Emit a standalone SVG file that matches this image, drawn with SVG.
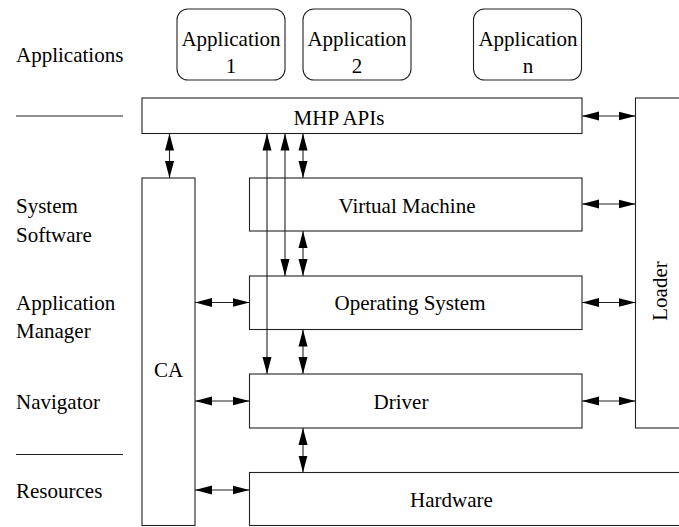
<svg xmlns="http://www.w3.org/2000/svg" width="679" height="527" viewBox="0 0 679 527" font-family="'Liberation Serif', 'Times New Roman', 'DejaVu Serif', serif">
<defs>
<style>
text{font-family:'Liberation Serif','Times New Roman','DejaVu Serif',serif;font-size:21px;fill:#000}
.m{text-anchor:middle}
.box{fill:#fff;stroke:#222;stroke-width:1.1}
.sep{stroke:#222;stroke-width:1.1}
.c{stroke:#222;stroke-width:1.1;fill:none;marker-start:url(#ah);marker-end:url(#ah)}
</style>
<marker id="ah" markerUnits="userSpaceOnUse" markerWidth="18" markerHeight="10" refX="17" refY="5" orient="auto-start-reverse" viewBox="0 0 18 10">
<path d="M0,0.5 L17,5 L0,9.5 Z" fill="#000"/>
</marker>
</defs>
<rect width="679" height="527" fill="#fff"/>

<g id="layer-labels">
<text x="16" y="62">Applications</text>
<line class="sep" x1="16" y1="116" x2="123" y2="116"/>
<text x="16" y="213">System</text>
<text x="16" y="242">Software</text>
<text x="16" y="310">Application</text>
<text x="16" y="338">Manager</text>
<text x="16" y="409">Navigator</text>
<line class="sep" x1="16" y1="454.5" x2="123" y2="454.5"/>
<text x="16" y="498">Resources</text>
</g>

<g id="app1"><rect class="box" x="177" y="9" width="108" height="71" rx="11"/><text class="m" x="231" y="46">Application</text><text class="m" x="231" y="73">1</text></g>
<g id="app2"><rect class="box" x="303" y="9" width="108" height="71" rx="11"/><text class="m" x="357" y="46">Application</text><text class="m" x="357" y="73">2</text></g>
<g id="appn"><rect class="box" x="473.5" y="9" width="108" height="71" rx="11"/><text class="m" x="528" y="46">Application</text><text class="m" x="528" y="73">n</text></g>

<g id="mhp"><rect class="box" x="142" y="98" width="440" height="35.5"/><text class="m" x="339" y="125">MHP APIs</text></g>
<g id="ca"><rect class="box" x="142" y="178" width="53" height="347.5"/><text class="m" x="168.5" y="377">CA</text></g>
<g id="vm"><rect class="box" x="249.5" y="178" width="332.5" height="53"/><text class="m" x="407" y="213">Virtual Machine</text></g>
<g id="os"><rect class="box" x="249.5" y="276" width="332.5" height="53.5"/><text class="m" x="410" y="310">Operating System</text></g>
<g id="driver"><rect class="box" x="249.5" y="374" width="332.5" height="54"/><text class="m" x="401" y="409">Driver</text></g>
<g id="hardware"><rect class="box" x="249.5" y="472.5" width="440" height="53"/><text class="m" x="451.5" y="507">Hardware</text></g>
<g id="loader"><rect class="box" x="635.5" y="98" width="60" height="330"/><text class="m" transform="translate(667,291) rotate(-90)">Loader</text></g>

<g id="connectors">
<line class="c" x1="169.5" y1="133.5" x2="169.5" y2="178"/>
<line class="c" x1="267" y1="133.5" x2="267" y2="374"/>
<line class="c" x1="285" y1="133.5" x2="285" y2="276"/>
<line class="c" x1="303" y1="133.5" x2="303" y2="178"/>
<line class="c" x1="303" y1="231" x2="303" y2="276"/>
<line class="c" x1="303" y1="329.5" x2="303" y2="374"/>
<line class="c" x1="303" y1="428" x2="303" y2="472.5"/>
<line class="c" x1="195" y1="302.5" x2="249.5" y2="302.5"/>
<line class="c" x1="195" y1="401" x2="249.5" y2="401"/>
<line class="c" x1="195" y1="490" x2="249.5" y2="490"/>
<line class="c" x1="582" y1="116" x2="635.5" y2="116"/>
<line class="c" x1="582" y1="204" x2="635.5" y2="204"/>
<line class="c" x1="582" y1="302.5" x2="635.5" y2="302.5"/>
<line class="c" x1="582" y1="401" x2="635.5" y2="401"/>
</g>
</svg>
